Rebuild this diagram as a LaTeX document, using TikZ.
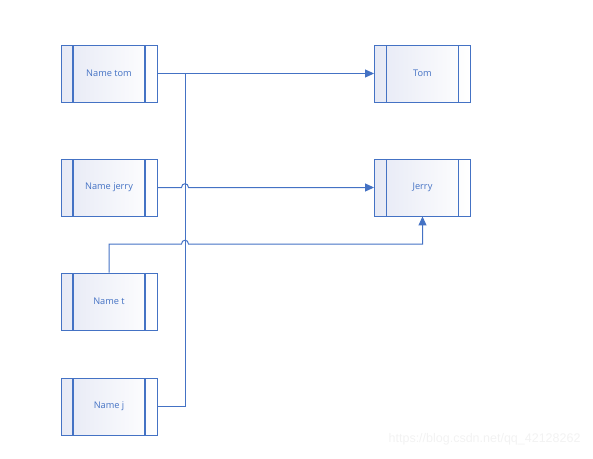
\documentclass[tikz,border=0pt]{standalone}
\usepackage{fontspec}
\setmainfont{Open Sans}
\newfontfamily\wmfont{Liberation Sans}
\usepackage{tikz}
\usetikzlibrary{arrows.meta}
\definecolor{boxblue}{RGB}{68,114,196}
\definecolor{boxtint}{RGB}{230,233,245}

\begin{document}
\begin{tikzpicture}[x=1pt,y=-1pt,
  obj/.style={draw=boxblue,line width=0.9pt,minimum width=96pt,minimum height=57pt,inner sep=0pt,
    left color=boxtint,right color=white,font=\fontsize{9.2}{10}\selectfont,text=boxblue,
    path picture={\draw[boxblue,line width=1.2pt]
      ([xshift=12pt]path picture bounding box.north west) -- ([xshift=12pt]path picture bounding box.south west)
      ([xshift=-12pt]path picture bounding box.north east) -- ([xshift=-12pt]path picture bounding box.south east);}},
  link/.style={draw=boxblue,line width=1pt},
  tip/.style={-{Triangle[length=9pt,width=8pt]}}]
\useasboundingbox (0,0) rectangle (593,458);
\node[obj] (ntom) at (109,73.5) {Name tom};
\node[obj] (njerry) at (109,187.5) {Name jerry};
\node[obj] (nt) at (109,301.5) {Name t};
\node[obj] (nj) at (109,406.5) {Name j};
\node[obj] (tom) at (422.5,73.5) {Tom};
\node[obj] (jerry) at (422.5,187.5) {Jerry};
\coordinate (bus) at (185,73.5);
% references
\draw[link,tip] (ntom.east) -- (tom.west);
\draw[link] (nj.east) -| (bus);
\draw[link,tip] (njerry.east) -- (181.5,187.5) .. controls (181.5,182.5) and (188.5,182.5) .. (188.5,187.5) -- (jerry.west);
\draw[link,tip] (nt.north) |- (181.5,244) .. controls (181.5,239) and (188.5,239) .. (188.5,244) -| (jerry.south);
\node[font=\wmfont\fontsize{12.5}{14}\selectfont,text=black!5,anchor=east] (wm) at (584,439) {https://blog.csdn.net/qq\_42128262};
\end{tikzpicture}
\end{document}
